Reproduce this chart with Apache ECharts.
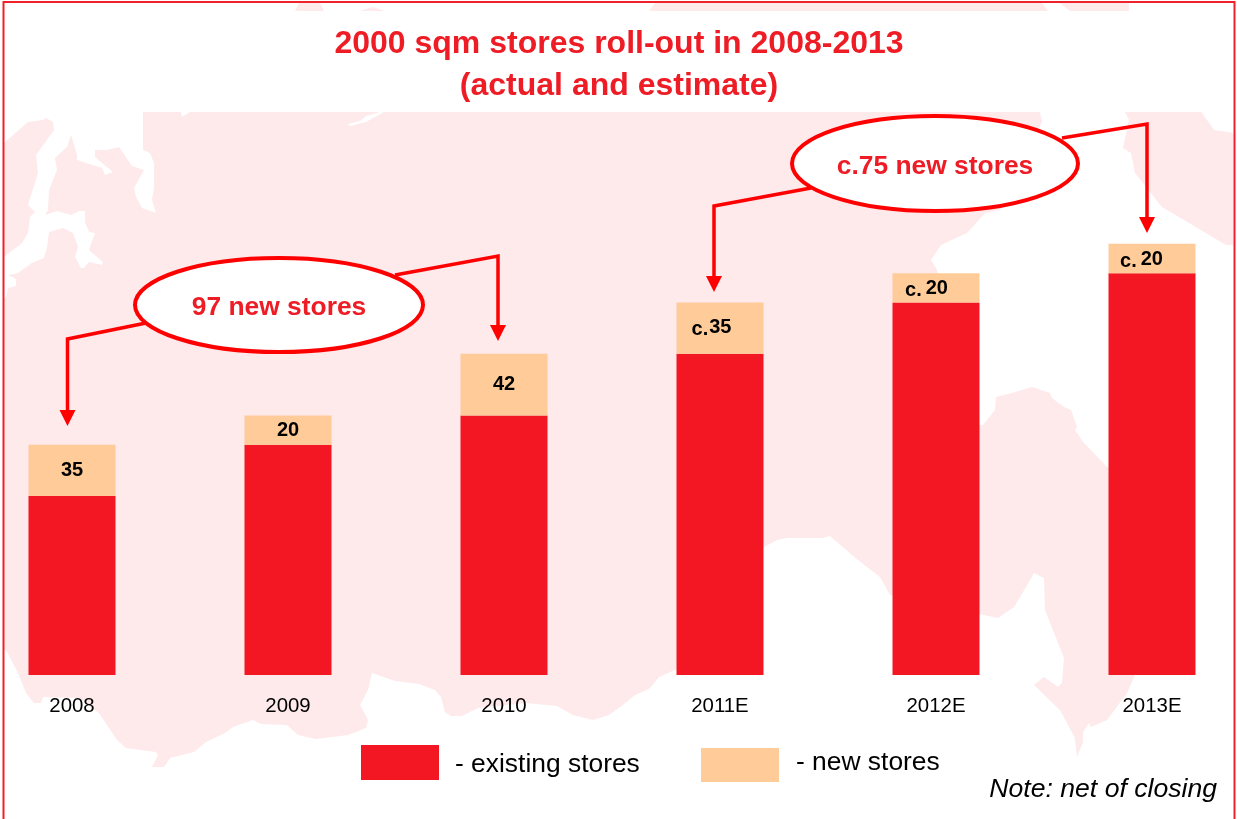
<!DOCTYPE html>
<html>
<head>
<meta charset="utf-8">
<style>html,body{margin:0;padding:0;background:#fff}#chart{width:1237px;height:819px}</style>
<script src="https://cdn.jsdelivr.net/npm/echarts@6/dist/echarts.min.js"></script>
</head>
<body>
<div id="chart"></div>
<script>
// Store counts by year
const years = ['2008', '2009', '2010', '2011E', '2012E', '2013E'];
const existingStores = [122, 157, 177, 219, 254, 274];
const newStores = [35, 20, 42, 35, 20, 20];
const valuePrefix = ['', '', '', 'c.', 'c.', 'c.'];

const RED = '#F21723', PEACH = '#FFCC99', ARROW = '#FF0000', TITLE_RED = '#EE1C25', LAND = '#FEE9EB';
const SANS = '"Liberation Sans", Arial, sans-serif';

// Per-bar placement of the value labels
const labelShift = [[0, 0], [0, 0], [0, 0], [-8.5, -1], [-9.5, 1], [-10.5, 1]];
const prefixGap = [0, 0, 0, 1, 4, 4];

// Backdrop landmass
const landMain = [[143,112],[143,150],[150,153],[154,163],[154,187],[152,200],[156,213],[142,208],[136,197],[134,188],[144,170],[132,166],[119,147],[107,150],[95,150],[95,157],[113,172],[105,175],[102,168],[77,160],[77,155],[71,135],[67,147],[55,158],[57,170],[49,190],[48,210],[45,215],[57,211],[71,215],[79,211],[85,211],[85,222],[89,232],[95,233],[89,250],[103,262],[102,265],[89,262],[84,268],[81,268],[75,257],[78,247],[73,233],[63,228],[49,232],[47,248],[44,258],[32,263],[18,273],[8,275],[16,279],[16,286],[8,288],[6,298],[4,298],[4,650],[6,650],[18,673],[26,693],[34,703],[41,703],[43,697],[79,698],[99,713],[117,740],[126,748],[156,752],[158,755],[152,767],[164,767],[170,758],[194,752],[206,742],[225,733],[233,727],[253,720],[261,724],[287,725],[298,735],[316,739],[348,735],[366,728],[368,720],[360,705],[368,690],[372,673],[395,681],[419,684],[435,690],[441,697],[445,712],[451,716],[462,716],[478,708],[526,703],[557,706],[573,715],[593,720],[609,715],[620,707],[635,695],[649,689],[659,677],[677,669],[764,547],[777,540],[787,538],[823,538],[830,536],[858,560],[880,577],[890,595],[979,614],[998,618],[1014,607],[1026,587],[1034,573],[1044,578],[1045,610],[1064,658],[1062,683],[1058,687],[1044,677],[1034,685],[1060,710],[1075,738],[1077,757],[1083,742],[1083,732],[1089,723],[1091,727],[1107,720],[1127,693],[1135,675],[1140,560],[1125,470],[1107,467],[1083,442],[1075,430],[1077,427],[1071,410],[1064,407],[1052,398],[1050,393],[1032,387],[1012,393],[996,397],[995,410],[983,425],[979,425],[937,270],[931,260],[941,245],[967,233],[985,213],[1000,210],[1042,122],[1040,112],[384,112],[366,122],[350,126],[348,124],[360,121],[366,116],[380,112],[190,112],[182,117],[181,112]];
const landWest = [[4,143],[28,122],[43,120],[46,118],[53,122],[54,130],[36,155],[38,173],[28,205],[35,212],[30,217],[28,233],[22,243],[4,257]];
const landEast = [[1125,112],[1129,120],[1123,148],[1131,153],[1135,173],[1162,207],[1226,245],[1233,245],[1233,133],[1214,130],[1202,113],[1202,112]];
const landStrips = [
  [[295,11],[299,3],[320,3],[324,11]],
  [[360,11],[373,7],[385,11]],
  [[649,11],[655,3],[1042,3],[1048,11]],
  [[1060,3],[1070,11],[1129,11],[1129,3]]
];

const landShape = pts => ({ type: 'polygon', z: 0, silent: true, shape: { points: pts }, style: { fill: LAND } });

// One callout: ellipse, two elbow connectors ending in arrowheads, and its caption
function callout(cx, cy, rx, ry, caption, left, right) {
  const head = p => ({
    type: 'polygon', z: 10, silent: true,
    shape: { points: [[p[0] - 8, p[1] - 16], [p[0] + 8, p[1] - 16], [p[0], p[1]]] },
    style: { fill: ARROW }
  });
  const line = pts => ({
    type: 'polyline', z: 10, silent: true,
    shape: { points: pts },
    style: { stroke: ARROW, lineWidth: 3.5, fill: null }
  });
  const shaft = a => [a[0], a[1], [a[2][0], a[2][1] - 14]];
  return [
    line(shaft(left)), head(left[2]),
    line(shaft(right)), head(right[2]),
    { type: 'ellipse', z: 11, silent: true, shape: { cx, cy, rx, ry }, style: { fill: '#fff', stroke: ARROW, lineWidth: 4 } },
    { type: 'text', z: 12, silent: true, style: { x: cx, y: cy + 3, text: caption, fill: TITLE_RED, font: 'bold 26.4px ' + SANS, textAlign: 'center', textVerticalAlign: 'middle' } }
  ];
}

const legendText = (leftPad, rich) => ({
  color: '#000', fontFamily: SANS, fontSize: 26.4, padding: [0, 0, 0, leftPad],
  rich: { t: Object.assign({ color: '#000', fontFamily: SANS, fontSize: 26.4 }, rich) }
});

const chart = echarts.init(document.getElementById('chart'), null, { renderer: 'canvas' });
chart.setOption({
  animation: false,
  backgroundColor: '#fff',
  title: {
    text: '2000 sqm stores roll-out in 2008-2013\n(actual and estimate)',
    left: 614, top: 18,
    textAlign: 'center',
    textStyle: { color: TITLE_RED, fontFamily: SANS, fontWeight: 'bold', fontSize: 32, lineHeight: 42 }
  },
  legend: [
    {
      data: [{ name: 'existing stores', icon: 'rect' }], left: 361, top: 745, itemWidth: 78, itemHeight: 35, padding: 0,
      formatter: n => '{t|- ' + n + '}', selectedMode: false, itemStyle: { borderWidth: 0 },
      textStyle: legendText(11, { padding: [4, 0, 0, 0] })
    },
    {
      data: [{ name: 'new stores', icon: 'rect' }], left: 701, top: 748, itemWidth: 78, itemHeight: 34, padding: 0,
      formatter: n => '{t|- ' + n + '}', selectedMode: false, itemStyle: { borderWidth: 0 },
      textStyle: legendText(12, { padding: [0, 0, 4, 0] })
    }
  ],
  grid: { left: -36, width: 1296, top: 235, height: 440, outerBoundsMode: 'none' },
  xAxis: {
    type: 'category', data: years,
    axisLine: { show: false }, axisTick: { show: false },
    axisLabel: { color: '#000', fontFamily: SANS, fontSize: 20.4, margin: 21 }
  },
  yAxis: { type: 'value', min: 0, max: 300, show: false, splitLine: { show: false } },
  series: [
    {
      name: 'existing stores', type: 'bar', stack: 'stores', barWidth: 87,
      itemStyle: { color: RED }, data: existingStores
    },
    {
      name: 'new stores', type: 'bar', stack: 'stores', barWidth: 87,
      itemStyle: { color: PEACH },
      data: newStores.map((v, i) => ({
        value: v,
        label: {
          show: true, position: 'inside',
          offset: labelShift[i],
          formatter: (valuePrefix[i] ? '{c|' + valuePrefix[i] + '}' : '') + '{n|' + v + '}',
          rich: {
            n: { color: '#000', fontFamily: SANS, fontWeight: 'bold', fontSize: 20, lineHeight: 24 },
            c: { color: '#000', fontFamily: SANS, fontWeight: 'bold', fontSize: 20, lineHeight: 24, padding: [4, prefixGap[i], 0, 0] }
          }
        }
      }))
    }
  ],
  graphic: { elements: [
    landShape(landMain), landShape(landWest), landShape(landEast),
    ...landStrips.map(landShape),
    ...callout(279, 305, 144, 47, '97 new stores',
      [[146, 323], [67.5, 339], [67.5, 426]], [[395, 275], [498, 256], [498, 341]]),
    ...callout(935, 163.5, 143, 47.5, 'c.75 new stores',
      [[811, 188], [714, 206], [714, 292]], [[1062, 138], [1147, 124], [1147, 233]]),
    { type: 'text', z: 5, silent: true, style: { x: 1217, y: 790, text: 'Note: net of closing', fill: '#000', font: 'italic 26.6px ' + SANS, textAlign: 'right', textVerticalAlign: 'middle' } },
    { type: 'rect', z: 20, silent: true, shape: { x: 3.5, y: 2, width: 1231, height: 830 }, style: { fill: null, stroke: '#F0202C', lineWidth: 2 } }
  ] }
});
</script>
</body>
</html>
